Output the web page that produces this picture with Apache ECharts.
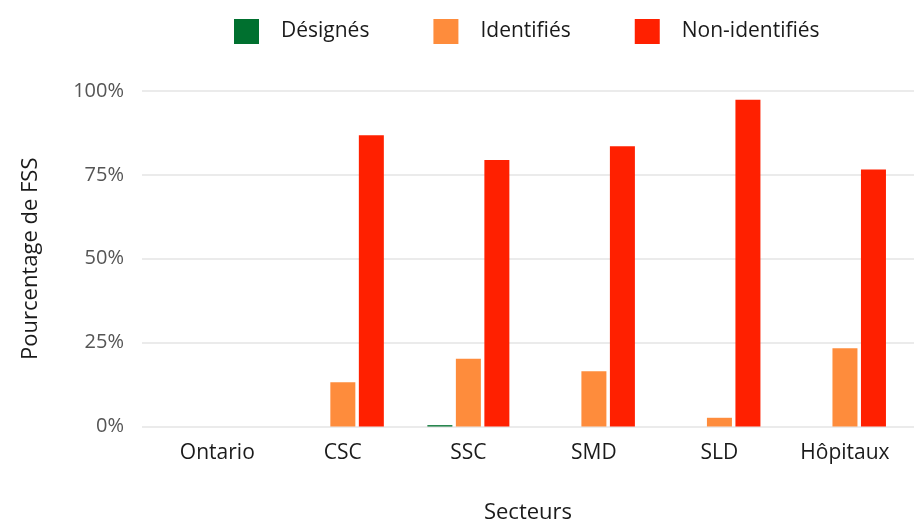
<!DOCTYPE html>
<html>
<head>
    <meta charset="utf-8">
    <title>FSS par secteur</title>
    <script src="https://cdn.jsdelivr.net/npm/echarts@6/dist/echarts.min.js"></script>
    <style>
        html, body { margin: 0; padding: 0; background: #fff; }
        #chart { width: 914px; height: 523px; }
    </style>
</head>
<body>
    <div id="chart"></div>
    <script>
        // données
        var categories = ['Ontario', 'CSC', 'SSC', 'SMD', 'SLD', 'Hôpitaux'];
        var designes = [0, 0, 0.4, 0, 0, 0];
        var identifies = [0, 13.2, 20.2, 16.5, 2.6, 23.3];
        var nonIdentifies = [0, 86.8, 79.4, 83.5, 97.4, 76.6];
        var yTicks = [0, 25, 50, 75, 100];

        function toPoints(arr) {
            return arr.map(function (v, i) { return [i, v]; });
        }

        var font = '"Open Sans", Lato, sans-serif';
        var chart = echarts.init(document.getElementById('chart'));

        chart.setOption({
            animation: false,
            textStyle: { fontFamily: font },
            legend: {
                left: 229,
                top: 14,
                itemWidth: 25,
                itemHeight: 25,
                itemGap: 64,
                icon: 'rect',
                textStyle: { fontSize: 21, color: '#1a1a1a', padding: [0, 0, 0, 17], fontFamily: font },
                data: ['Désignés', 'Identifiés', 'Non-identifiés']
            },
            grid: { left: 142, right: 0, top: 91, bottom: 96.5, containLabel: false, outerBoundsMode: 'none' },
            xAxis: {
                type: 'value',
                min: -0.6,
                max: 5.55,
                name: 'Secteurs',
                nameLocation: 'middle',
                nameGap: 75,
                nameTextStyle: { fontSize: 22, color: '#1a1a1a', fontFamily: font },
                axisLine: { show: false },
                axisTick: { show: false },
                splitLine: { show: false },
                axisLabel: {
                    customValues: [0, 1, 2, 3, 4, 5],
                    formatter: function (v) { return categories[Math.round(v)]; },
                    fontSize: 21,
                    color: '#1a1a1a',
                    margin: 16,
                    fontFamily: font
                }
            },
            yAxis: {
                type: 'value',
                min: yTicks[0],
                max: yTicks[yTicks.length - 1],
                interval: 25,
                name: 'Pourcentage de FSS',
                nameLocation: 'middle',
                nameGap: 100,
                nameTextStyle: { fontSize: 22, color: '#1a1a1a', fontFamily: font },
                axisLine: { show: false },
                axisTick: { show: false },
                splitLine: { lineStyle: { color: '#ebebeb', width: 2 } },
                axisLabel: {
                    formatter: '{value}%',
                    fontSize: 20,
                    color: '#555',
                    margin: 18,
                    fontFamily: font
                }
            },
            series: [
                {
                    name: 'Désignés', type: 'bar', barWidth: 25, barGap: '14%',
                    itemStyle: { color: '#00702f' }, data: toPoints(designes)
                },
                {
                    name: 'Identifiés', type: 'bar', barWidth: 25, barGap: '14%',
                    itemStyle: { color: '#fe8c3c' }, data: toPoints(identifies)
                },
                {
                    name: 'Non-identifiés', type: 'bar', barWidth: 25, barGap: '14%',
                    itemStyle: { color: '#ff2000' }, data: toPoints(nonIdentifies)
                }
            ]
        });
    </script>
</body>
</html>
